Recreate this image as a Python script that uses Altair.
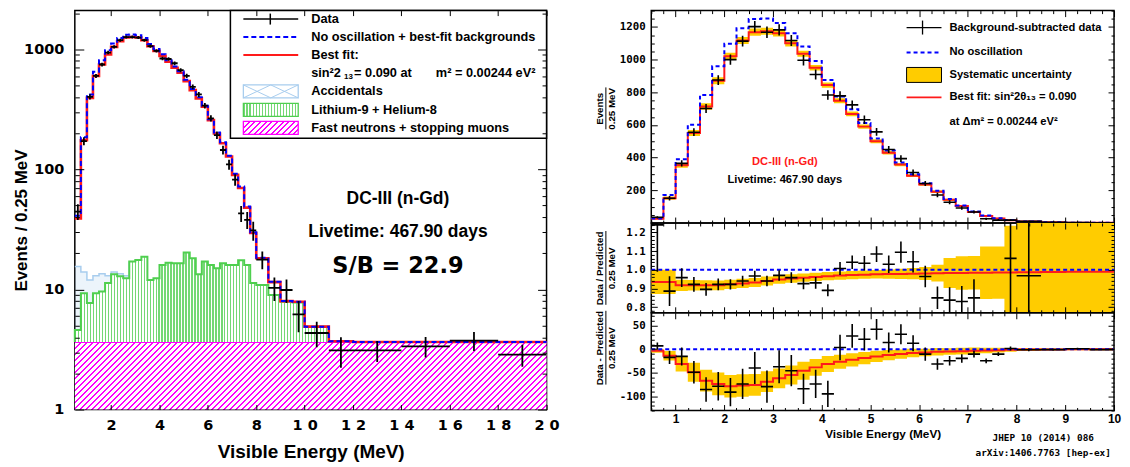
import altair as alt
import pandas as pd

# ---------------- Left panel (log): Events / 0.25 MeV ----------------
L_EDGES = [0.5, 0.75, 1.0, 1.25, 1.5, 1.75, 2.0, 2.25, 2.5, 2.75, 3.0, 3.25, 3.5, 3.75,
           4.0, 4.25, 4.5, 4.75, 5.0, 5.25, 5.5, 5.75, 6.0, 6.25, 6.5, 6.75, 7.0, 7.25,
           7.5, 7.75, 8.0, 8.5, 9.0, 9.5, 10.0, 11.0, 12.0, 14.0, 16.0, 18.0, 20.0]
L_BEST = [39, 175, 394, 601, 747, 905, 1048, 1167, 1253, 1265, 1253, 1190, 1061, 970,
          881, 787, 702, 637, 543, 457, 390, 332, 257, 199, 165, 128, 90, 70, 48, 29.5,
          18.2, 11.5, 8.0, 7.9, 4.9, 3.7, 3.65, 3.65, 3.65, 3.65]
L_NOOSC = [41, 185, 420, 650, 810, 980, 1120, 1240, 1320, 1330, 1310, 1240, 1105, 1005,
           910, 810, 720, 655, 558, 468, 398, 338, 262, 203, 168, 130, 92, 72, 49, 30,
           18.4, 11.6, 8.0, 7.9, 4.9, 3.7, 3.65, 3.65, 3.65, 3.65]
L_DATA = [44.5, 172, 402, 600, 747, 940, 1048, 1190, 1265, 1265, 1253, 1190, 1061, 970,
          838, 830, 765, 670, 601, 487, 421, 339, 266, 193, 145, 110, 82, 43, 38, 31,
          17.7, 10.3, 9.9, 6.2, 4.34, 3.11, 3.11, 3.36, 3.75, 2.87]
L_ERR = [6.7, 13, 20, 24, 27, 31, 32, 34, 36, 36, 35, 34, 33, 31, 29, 29, 28, 26, 25, 22,
         21, 18, 16, 14, 12, 10.5, 9, 6.6, 6.2, 5.6, 3.0, 2.3, 2.2, 1.8, 1.04, 0.88, 0.62,
         0.65, 0.68, 0.6]
L_FN = 3.65   # fast neutrons + stopping muons (flat)
L_LI = [4.6, 9.3, 7.7, 9.3, 9.6, 11.3, 13.4, 12.9, 12.4, 17.1, 17.6, 18.7, 12.0, 12.4,
        16.0, 16.7, 16.5, 16.5, 20.3, 18.2, 13.4, 17.1, 16.0, 15.0, 16.5, 16.0, 16.0,
        17.5, 16.0, 11.3, 10.9, 9.0, 7.9, 7.8, 4.9]          # stacked top, bins up to 11 MeV
L_ACC = [15.5, 14, 12, 13, 13.5, 13, 14, 13.5, 13]           # stacked top, bins up to 2.75 MeV

# ---------------- Right panels ----------------
R_EDGES = [0.5, 0.75, 1.0, 1.25, 1.5, 1.75, 2.0, 2.25, 2.5, 2.75, 3.0, 3.25, 3.5, 3.75,
           4.0, 4.25, 4.5, 4.75, 5.0, 5.25, 5.5, 5.75, 6.0, 6.25, 6.5, 6.75, 7.0, 7.25,
           7.5, 7.75, 8.0, 8.5, 9.0, 9.5, 10.0]
R_NOOSC = [28, 172, 390, 602, 784, 959, 1097, 1192, 1248, 1252, 1224, 1162, 1081, 992,
           875, 775, 697, 612, 518, 444, 370, 299, 244, 198, 147, 108, 71, 46, 30, 18,
           10, 5, 2, 1]
R_BEST = [26, 152, 353, 551, 713, 871, 1020, 1117, 1168, 1174, 1162, 1100, 1036, 950,
          844, 748, 668, 590, 500, 430, 358, 290, 236, 192, 142, 104, 68, 43, 28, 17,
          10, 5, 2, 1]
R_DATA = [35, 152, 365, 556, 701, 875, 1000, 1113, 1202, 1168, 1182, 1117, 996, 909,
          784, 778, 723, 632, 558, 450, 394, 309, 242, 172, 127, 92, 68, 26, 18, 18,
          10, 4, 2.5, 0.5]
R_ERR = [7, 14, 19, 24, 27, 30, 32, 33, 35, 35, 35, 34, 32, 31, 29, 28, 27, 26, 24, 22,
         21, 18, 16, 14, 12, 10, 9, 7, 6, 5, 4, 3, 2, 1]
R_BAND = [3, 10, 15, 18, 20, 21, 22, 22, 22, 21, 20, 19, 18, 17, 16, 15, 14, 13, 12, 11,
          10, 9, 8, 8, 7, 7, 6, 5, 4, 3, 3, 2, 2, 2]

Q_BINS = list(range(27)) + [29, 30]
Q_DATA = [1.24, 0.886, 0.958, 0.922, 0.895, 0.922, 0.922, 0.94, 0.967, 0.94, 0.97, 0.958,
          0.926, 0.93, 0.89, 1.007, 1.04, 1.035, 1.084, 1.03, 1.094, 1.043, 0.964, 0.85,
          0.838, 0.83, 0.85, 1.061, 0.968]
Q_ERR = [0.25, 0.08, 0.05, 0.04, 0.034, 0.031, 0.028, 0.028, 0.028, 0.028, 0.028, 0.029,
         0.03, 0.031, 0.032, 0.035, 0.036, 0.039, 0.042, 0.047, 0.057, 0.057, 0.057, 0.06,
         0.068, 0.083, 0.1, 0.7, 0.6]
Q_BEST = [0.935, 0.935, 0.917, 0.917, 0.917, 0.917, 0.922, 0.927, 0.932, 0.94, 0.948,
          0.953, 0.958, 0.962, 0.966, 0.969, 0.972, 0.974, 0.976, 0.977, 0.978, 0.979,
          0.98, 0.982, 0.983, 0.983, 0.984, 0.984, 0.985, 0.985, 0.987, 0.988, 0.989, 0.99]
Q_BAND = [0.065, 0.065, 0.03, 0.028, 0.027, 0.026, 0.025, 0.025, 0.024, 0.024, 0.023,
          0.023, 0.022, 0.022, 0.022, 0.022, 0.022, 0.022, 0.023, 0.025, 0.027, 0.03,
          0.035, 0.045, 0.08, 0.09, 0.09, 0.14, 0.14, 0.25, 0.6, 0.6, 0.6, 0.6]

D_DATA = [7, -17.5, -15.4, -49, -85.6, -78.6, -91, -73.7, -40, -79.3, -37.2, -45.6, -84,
          -73.7, -94.7, 3.5, 28, 21, 42, 14, 31.6, 12.6, -10.5, -31.6, -24.6, -19.6, -10.5,
          -24.6, -10.5, 1.4, -1.4, -1, 1, -1]
D_ERR = [7, 14, 19, 24, 26, 30, 30, 32, 34, 34, 35, 33, 32, 30, 28, 27, 25, 24, 22, 21,
         21, 17, 14, 12, 10, 9, 7, 5, 4, 4, 3, 2, 2, 1]
D_BEST = [-3.5, -14, -31.6, -49, -66.7, -73.7, -78.6, -77, -75.8, -68.8, -61.8, -54.7,
          -45.6, -38.6, -31.6, -26.7, -22.5, -19, -15.4, -12.6, -10.5, -8.4, -7, -5.6,
          -4.9, -4.2, -3.5, -2.8, -2.1, -1.4, -0.7, -0.5, -0.3, -0.2]
D_BAND = [4, 10, 16, 20, 23, 24, 24, 24, 23, 22, 21, 20, 19, 18, 17, 15, 14, 13, 12, 11,
          10, 9, 8, 8, 7, 7, 7, 6, 5, 4, 3, 2, 2, 2]

# ---------------- layout / style ----------------
W_L, H_L = 473, 400
W_R, H_M, H_Q, H_D = 464, 213, 90, 98
FONT = "Liberation Sans"
MONO = "DejaVu Sans Mono"
DJV = "DejaVu Sans"
RED, BLUE, YEL = "#ff1a1a", "#0000ff", "#ffcc00"
GREEN, MAG, LBLUE = "#4fcf4f", "#ff00ff", "#a8cdee"
ONE = pd.DataFrame({"a": [0]})


def diag_stripes(color, n, frac, w, h):
    r = h / w
    x2 = (1 + r) / (1 + r * r)
    stops = []
    for i in range(n):
        a, b, c = i / n, (i + frac) / n, (i + 1) / n
        stops += [{"offset": round(a, 5), "color": color}, {"offset": round(b, 5), "color": color},
                  {"offset": round(b, 5), "color": "white"}, {"offset": round(c, 5), "color": "white"}]
    return {"gradient": "linear", "x1": 0, "y1": 0, "x2": round(x2, 5), "y2": round(r * x2, 5),
            "stops": stops}


def vert_stripes(color, n, frac):
    stops = []
    for i in range(n):
        a, b, c = i / n, (i + frac) / n, (i + 1) / n
        stops += [{"offset": round(a, 5), "color": color}, {"offset": round(b, 5), "color": color},
                  {"offset": round(b, 5), "color": "white"}, {"offset": round(c, 5), "color": "white"}]
    return {"gradient": "linear", "x1": 0, "y1": 0, "x2": 1, "y2": 0, "stops": stops}


def steps(edges, vals, pre=None, post=None):
    n = len(vals)
    xs = list(edges[:n + 1])
    ys = list(vals) + [vals[-1]]
    if pre is not None:
        xs = [edges[0]] + xs
        ys = [pre] + ys
    if post is not None:
        xs = xs + [edges[n]]
        ys = ys + [post]
    return pd.DataFrame({"x": xs, "y": ys, "o": list(range(len(xs)))})


def band(edges, mid, half):
    n = len(mid)
    lo = [m - h for m, h in zip(mid, half)]
    hi = [m + h for m, h in zip(mid, half)]
    return pd.DataFrame({"x": list(edges[:n + 1]), "lo": lo + [lo[-1]], "hi": hi + [hi[-1]]})


def points(edges, idx, vals, errs):
    rows = []
    for i, v, e in zip(idx, vals, errs):
        rows.append({"c": (edges[i] + edges[i + 1]) / 2, "l": edges[i], "r": edges[i + 1],
                     "v": v, "lo": v - e, "hi": v + e})
    return pd.DataFrame(rows)


def tick_ax(orient, offset, values, size):
    return alt.Axis(orient=orient, offset=offset, values=values, labels=False, domain=False,
                    grid=False, title=None, ticks=True, tickColor="black", tickWidth=1,
                    tickSize=size, zindex=3)


def cond(test, big, small):
    return {"condition": {"test": test, "value": big}, "value": small}


def line(df, xs, ys, color, width, dash=None, xax=None, yax=None, clip=False):
    kw = dict(interpolate="step-after", color=color, strokeWidth=width, clip=clip)
    if dash:
        kw["strokeDash"] = dash
    return alt.Chart(df).mark_line(**kw).encode(
        x=alt.X("x:Q", scale=xs, axis=xax), y=alt.Y("y:Q", scale=ys, axis=yax),
        order="o:Q")


def crosses(df, xs, ys, width=1.6):
    v = alt.Chart(df).mark_rule(color="black", strokeWidth=width, clip=True).encode(
        x=alt.X("c:Q", scale=xs, axis=None), y=alt.Y("lo:Q", scale=ys, axis=None), y2="hi:Q")
    h = alt.Chart(df).mark_rule(color="black", strokeWidth=width, clip=True).encode(
        x=alt.X("l:Q", scale=xs, axis=None), x2="r:Q", y=alt.Y("v:Q", scale=ys, axis=None))
    return [v, h]


def prule(x1, x2, y1, y2, color="black", width=1.5, dash=None):
    kw = dict(color=color, strokeWidth=width)
    if dash:
        kw["strokeDash"] = dash
    return alt.Chart(ONE).mark_rule(**kw).encode(
        x=alt.value(x1), x2=alt.value(x2), y=alt.value(y1), y2=alt.value(y2))


def prect(x1, x2, y1, y2, fill, stroke, width=1.2):
    return alt.Chart(ONE).mark_rect(fill=fill, stroke=stroke, strokeWidth=width, opacity=1).encode(
        x=alt.value(x1), x2=alt.value(x2), y=alt.value(y1), y2=alt.value(y2))


def ptext(s, x, y, size, font=FONT, color="black", align="left"):
    return alt.Chart(pd.DataFrame({"t": [s]})).mark_text(
        align=align, baseline="middle", font=font, fontSize=size, fontWeight="bold",
        color=color).encode(x=alt.value(x), y=alt.value(y), text="t:N")


# ================= LEFT PANEL =================
XL = alt.Scale(domain=[0.5, 20], nice=False, zero=False)
YL = alt.Scale(type="log", domain=[1, 2100], nice=False)
L_XT = [2, 4, 6, 8, 10, 12, 14, 16, 18, 20]
L_YT = [m * 10 ** k for k in range(4) for m in range(1, 10) if m * 10 ** k <= 2000]
LY_MAJ = "datum.value == 1 || datum.value == 10 || datum.value == 100 || datum.value == 1000"

AX_LB = alt.Axis(orient="bottom", values=L_XT,
                 labelExpr="datum.value >= 10 ? floor(datum.value / 10) + ' ' + (datum.value % 10) : datum.value + ''",
                 ticks=False, tickSize=0, domain=False, grid=False, labelFont=DJV, labelFontSize=14.5,
                 labelFontWeight="bold", labelColor="black", labelPadding=9, labelFlush=False,
                 labelOverlap=False, title="Visible Energy (MeV)", titleFont=FONT, titleFontSize=19,
                 titleFontWeight="bold", titleColor="black", titlePadding=11)
AX_LL = alt.Axis(orient="left", values=[1, 10, 100, 1000], labelExpr="datum.value + ''",
                 ticks=False, tickSize=0, domain=False, grid=False, labelFont=DJV, labelFontSize=14.5,
                 labelFontWeight="bold", labelColor="black", labelPadding=11, minExtent=38,
                 maxExtent=38, title="Events / 0.25 MeV", titleFont=FONT, titleFontSize=17,
                 titleFontWeight="bold", titleColor="black", titlePadding=6, titleY=210)

fn_df = pd.DataFrame({"x": [L_EDGES[0], L_EDGES[-1]], "y": [L_FN, L_FN], "b": [1, 1],
                      "o": [0, 1]})
H_FN = H_L * 0.5623 / 3.3222
fn_area = alt.Chart(fn_df).mark_area(fill=diag_stripes(MAG, 90, 0.33, W_L, H_FN), opacity=1).encode(
    x=alt.X("x:Q", scale=XL, axis=AX_LB), y=alt.Y("y:Q", scale=YL, axis=AX_LL), y2="b:Q")
fn_line = alt.Chart(fn_df).mark_line(color=MAG, strokeWidth=2).encode(
    x=alt.X("x:Q", scale=XL, axis=tick_ax("top", -H_L, L_XT, 5)),
    y=alt.Y("y:Q", scale=YL, axis=tick_ax("right", -W_L, L_YT, cond(LY_MAJ, 9, 4.5))))

li_n = len(L_LI)
li_df = pd.DataFrame({"x": L_EDGES[:li_n + 1], "top": L_LI + [L_LI[-1]],
                      "base": [L_FN] * (li_n + 1)})
li_area = alt.Chart(li_df).mark_area(interpolate="step-after", fill=vert_stripes("#74d874", 85, 0.42),
                                     opacity=1).encode(
    x=alt.X("x:Q", scale=XL, axis=tick_ax("bottom", -H_L, L_XT, 5)),
    y=alt.Y("top:Q", scale=YL, axis=tick_ax("left", -W_L, L_YT, cond(LY_MAJ, 9, 4.5))),
    y2="base:Q")
li_line = line(steps(L_EDGES, L_LI, pre=L_FN, post=L_FN), XL, YL, GREEN, 2)

acc_n = len(L_ACC)
acc_df = pd.DataFrame({"x": L_EDGES[:acc_n + 1], "top": L_ACC + [L_ACC[-1]],
                       "base": L_LI[:acc_n] + [L_LI[acc_n - 1]]})
acc_area = alt.Chart(acc_df).mark_area(interpolate="step-after", fill=LBLUE, opacity=0.22).encode(
    x=alt.X("x:Q", scale=XL, axis=None), y=alt.Y("top:Q", scale=YL, axis=None), y2="base:Q")
acc_line = line(steps(L_EDGES, L_ACC, post=L_LI[acc_n]), XL, YL, LBLUE, 1.5)

red_l = line(steps(L_EDGES, L_BEST), XL, YL, RED, 2.6)
blue_l = line(steps(L_EDGES, L_NOOSC), XL, YL, BLUE, 2, dash=[5, 3])
pts_l = crosses(points(L_EDGES, list(range(len(L_DATA))), L_DATA, L_ERR), XL, YL, 1.8)

LS = 12.8
leg_l = [
    prect(156, W_L, 0, 128, "white", "black", 1.5),
    prule(169, 224, 8.5, 8.5, "black", 1.5), prule(196, 196, 3, 14, "black", 1.5),
    prule(169, 224, 26.5, 26.5, BLUE, 2, [5, 3]),
    prule(169, 224, 44.5, 44.5, RED, 2),
    prect(169, 224, 74.5, 87.5, "white", LBLUE, 1.3),
    prule(169, 196.5, 74.5, 87.5, LBLUE, 1), prule(169, 196.5, 87.5, 74.5, LBLUE, 1),
    prule(196.5, 224, 74.5, 87.5, LBLUE, 1), prule(196.5, 224, 87.5, 74.5, LBLUE, 1),
    prect(169, 224, 93, 106, vert_stripes("#74d874", 18, 0.4), GREEN, 1.3),
    prect(169, 224, 111, 124, diag_stripes(MAG, 12, 0.33, 55, 13), MAG, 1.3),
    ptext("Data", 237, 8.5, LS),
    ptext("No oscillation + best-fit backgrounds", 237, 26.5, LS),
    ptext("Best fit:", 237, 44.5, LS),
    ptext("sin²2", 237, 62.5, LS),
    ptext("13", 270, 66.5, 8),
    ptext("= 0.090 at", 280, 62.5, LS),
    ptext("m² = 0.00244 eV²", 362, 62.5, LS),
    ptext("Accidentals", 237, 81, LS),
    ptext("Lithium-9 + Helium-8", 237, 99.5, LS),
    ptext("Fast neutrons + stopping muons", 237, 117.5, LS),
]
ann_l = [
    ptext("DC-III (n-Gd)", 324, 189, 17.5, align="center"),
    ptext("Livetime: 467.90 days", 324, 222, 17.5, align="center"),
    ptext("S/B = 22.9", 324, 256, 22.5, font=DJV, align="center"),
]

left = alt.layer(fn_area, fn_line, li_area, acc_area, acc_line, li_line, red_l, blue_l,
                 *pts_l, *leg_l, *ann_l).properties(width=W_L, height=H_L)

# ================= RIGHT PANELS =================
XR = alt.Scale(domain=[0.5, 10], nice=False, zero=False)
YM = alt.Scale(domain=[0, 1300], nice=False, zero=False)
YQ = alt.Scale(domain=[0.77, 1.25], nice=False, zero=False)
YD = alt.Scale(domain=[-130, 77], nice=False, zero=False)
R_XT = [0.5 + 0.25 * i for i in range(39)]
RX_MAJ = "datum.value % 1 == 0"
FRAC_X = -45.5
TS = 9.8


def r_yax(values, expr, title, ty):
    return alt.Axis(orient="left", values=values, labelExpr=expr, ticks=False, tickSize=0,
                    domain=False, grid=False, labelFont=MONO, labelFontSize=10.8,
                    labelFontWeight="bold", labelColor="black", labelPadding=6, minExtent=33,
                    maxExtent=33, title=title, titleFont=FONT, titleFontSize=TS,
                    titleFontWeight="bold", titleColor="black", titlePadding=2,
                    titleLineHeight=12, titleY=ty)


def r_panel(H, ys, y_lab, y_ticks, y_major, bdf, red_df, pts_df, ref_df, x_lab=None, extra=()):
    x1 = x_lab if x_lab is not None else tick_ax("top", -H, R_XT, cond(RX_MAJ, 6, 3))
    x2 = tick_ax("top", -H, R_XT, cond(RX_MAJ, 6, 3)) if x_lab is not None else \
        tick_ax("bottom", -H, R_XT, cond(RX_MAJ, 6, 3))
    x3 = tick_ax("bottom", -H, R_XT, cond(RX_MAJ, 6, 3)) if x_lab is not None else None
    layers = [
        alt.Chart(bdf).mark_area(interpolate="step-after", color=YEL, opacity=1, clip=True).encode(
            x=alt.X("x:Q", scale=XR, axis=x1), y=alt.Y("lo:Q", scale=ys, axis=y_lab), y2="hi:Q"),
        line(red_df, XR, ys, RED, 2, xax=x2,
             yax=tick_ax("right", -W_R, y_ticks, cond(y_major, 6, 3)), clip=True),
    ]
    if ref_df is not None:
        layers.append(line(ref_df, XR, ys, BLUE, 2, dash=[4, 3], xax=x3,
                           yax=tick_ax("left", -W_R, y_ticks, cond(y_major, 6, 3)), clip=True))
    layers += crosses(pts_df, XR, ys, 1.6)
    layers += list(extra)
    return alt.layer(*layers).properties(width=W_R, height=H)


# main panel
M_YT = list(range(0, 1301, 50))
main_ref = steps(R_EDGES, R_NOOSC)
RS = 11.2
leg_r = [
    prule(256, 291, 17, 17, "black", 1.3), prule(272, 272, 10, 24, "black", 1.3),
    ptext("Background-subtracted data", 299, 17, RS),
    prule(256, 291, 42, 42, BLUE, 2, [4, 3]),
    ptext("No oscillation", 299, 42, RS),
    prect(256, 291, 57, 72, YEL, "black", 1),
    ptext("Systematic uncertainty", 299, 64.5, RS),
    prule(256, 291, 87, 87, RED, 2),
    ptext("Best fit: sin²2θ₁₃ = 0.090", 299, 87, RS),
    ptext("at  Δm² = 0.00244 eV²", 299, 112, RS),
    ptext("DC-III (n-Gd)", 134, 152, 11.2, color=RED, align="center"),
    ptext("Livetime: 467.90 days", 134, 170, 11.2, align="center"),
    prule(FRAC_X, FRAC_X, 98 - 21, 98 + 21, "black", 1),
]
main = r_panel(H_M, YM, r_yax([200, 400, 600, 800, 1000, 1200], "datum.value + ''",
                              ["Events", "0.25 MeV"], 98),
               M_YT, "datum.value % 200 == 0",
               band(R_EDGES, R_BEST, R_BAND), steps(R_EDGES, R_BEST),
               points(R_EDGES, list(range(len(R_DATA))), R_DATA, R_ERR), main_ref,
               extra=leg_r)

# ratio panel
Q_YT = [round(0.78 + 0.02 * i, 2) for i in range(24)]
ratio = r_panel(H_Q, YQ, r_yax([0.8, 0.9, 1.0, 1.1, 1.2], "format(datum.value, '.1f')",
                               ["Data / Predicted", "0.25 MeV"], 45),
                Q_YT, "abs(datum.value * 10 - round(datum.value * 10)) < 0.001",
                band(R_EDGES, Q_BEST, Q_BAND), steps(R_EDGES, Q_BEST),
                points(R_EDGES, Q_BINS, Q_DATA, Q_ERR),
                pd.DataFrame({"x": [0.5, 10], "y": [1, 1], "o": [0, 1]}),
                extra=[prule(FRAC_X, FRAC_X, 45 - 37, 45 + 37, "black", 1)])

# difference panel
D_YT = list(range(-130, 71, 10))
AX_RB = alt.Axis(orient="bottom", values=list(range(1, 11)), labelExpr="datum.value + ''",
                 ticks=False, tickSize=0, domain=False, grid=False, labelFont=FONT,
                 labelFontSize=12, labelFontWeight="bold", labelColor="black", labelPadding=3,
                 labelFlush=False, labelOverlap=False, title="Visible Energy (MeV)",
                 titleFont=FONT, titleFontSize=11.8, titleFontWeight="bold", titleColor="black",
                 titlePadding=4)
foot = [
    ptext("JHEP 10 (2014) 086", 393, 126, 9.4, font=MONO, align="center"),
    ptext("arXiv:1406.7763 [hep-ex]", 393, 141, 9.4, font=MONO, align="center"),
    prule(FRAC_X, FRAC_X, 35 - 37, 35 + 37, "black", 1),
]
diff = r_panel(H_D, YD, r_yax([-100, -50, 0, 50],
                              "datum.value < 0 ? '-' + (-datum.value) : '' + datum.value",
                              ["Data - Predicted", "0.25 MeV"], 35),
               D_YT, "datum.value % 50 == 0",
               band(R_EDGES, D_BEST, D_BAND), steps(R_EDGES, D_BEST),
               points(R_EDGES, list(range(len(D_DATA))), D_DATA, D_ERR),
               pd.DataFrame({"x": [0.5, 10], "y": [0, 0], "o": [0, 1]}),
               x_lab=AX_RB, extra=foot)

right = alt.vconcat(main, ratio, diff, spacing=0, bounds="flush")

chart = alt.hconcat(left, right, spacing=33).properties(
    padding={"left": 4, "top": 0, "right": 0, "bottom": 0}
).configure_view(stroke="black", strokeWidth=1.5).configure_axis(grid=False)

chart.save("out.html", embed_options={"renderer": "svg", "actions": False})
